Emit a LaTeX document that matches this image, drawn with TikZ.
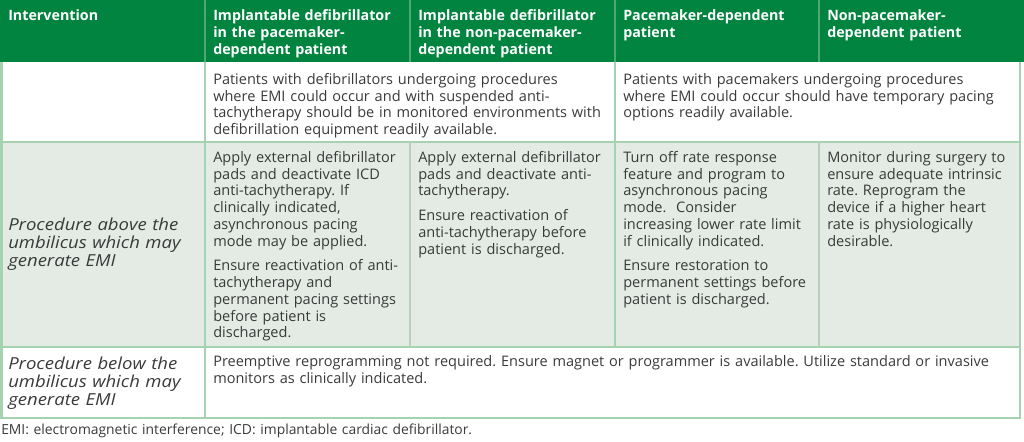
\documentclass[tikz,border=0pt]{standalone}
\usepackage{fontspec}
\setmainfont[ItalicFeatures={FakeStretch=1.12}]{Open Sans}
\frenchspacing
\definecolor{headgreen}{HTML}{00843F}
\definecolor{headrule}{HTML}{4FA772}
\definecolor{bodyrule}{HTML}{A6D3AF}
\definecolor{innerrule}{HTML}{B7CFBB}
\definecolor{rowshade}{HTML}{E3EBE4}
\definecolor{ink}{HTML}{3A3A3A}
\begin{document}
\begin{tikzpicture}[x=0.75pt,y=-0.75pt,
  head/.style={anchor=base west,inner sep=0pt,text width=170pt,align=left,text=white,
    font=\bfseries\fontsize{10.7}{12.75}\selectfont},
  cell/.style={anchor=base west,inner sep=0pt,text width=170pt,align=left,text=ink,
    font=\fontsize{10.9}{12.55}\selectfont},
  rowhead/.style={anchor=base west,inner sep=0pt,text width=170pt,align=left,text=ink,
    font=\itshape\fontsize{12.4}{13.5}\selectfont},
  rule/.style={bodyrule,line width=1.5pt},
  thinrule/.style={innerrule,line width=0.8pt}]
\useasboundingbox (0,0) rectangle (1024,442);

% backgrounds
\fill[headgreen] (0,0) rectangle (1024,62);
\fill[rowshade] (2,142) rectangle (1020,347);

% rules
\foreach \x in {205,410,615,819}
  \draw[headrule,line width=0.8pt] (\x,0) -- (\x,62);
\draw[rule] (1.5,62) -- (1.5,418) -- (1020,418) -- (1020,62);
\draw[rule] (1.5,142) -- (1020,142);
\draw[rule] (1.5,347) -- (1020,347);
\draw[rule] (205,62) -- (205,418);
\draw[rule] (615,62) -- (615,347);
\draw[thinrule] (410,142) -- (410,347);
\draw[thinrule] (819,142) -- (819,347);

% header
\node[head] (hint) at (8,20.5) {Intervention};
\node[head] (hicdpd) at (213,20.5) {Implantable defibrillator\\in the pacemaker-\\dependent patient};
\node[head] (hicdnpd) at (418,20.5) {Implantable defibrillator\\in the non-pacemaker-\\dependent patient};
\node[head] (hpmpd) at (623,20.5) {Pacemaker-dependent\\patient};
\node[head] (hpmnpd) at (827,20.5) {Non-pacemaker-\\dependent patient};

% general row
\node[cell,text width=320pt] (geficd) at (213,84.5) {Patients with defibrillators undergoing procedures\\where EMI could occur and with suspended anti-\\tachytherapy should be in monitored environments with\\defibrillation equipment readily available.};
\node[cell,text width=320pt] (genpm) at (623,84.5) {Patients with pacemakers undergoing procedures\\where EMI could occur should have temporary pacing\\options readily available.};

% above the umbilicus
\node[rowhead] (above) at (8,230) {Procedure above the\\umbilicus which may\\generate EMI};
\node[cell] (aicdpd) at (213,162.5) {Apply external defibrillator\\pads and deactivate ICD\\anti-tachytherapy. If\\clinically indicated,\\asynchronous pacing\\mode may be applied.\\[6pt]Ensure reactivation of anti-\\tachytherapy and\\permanent pacing settings\\before patient is\\discharged.};
\node[cell] (aicdnpd) at (418,162.5) {Apply external defibrillator\\pads and deactivate anti-\\tachytherapy.\\[6pt]Ensure reactivation of\\anti-tachytherapy before\\patient is discharged.};
\node[cell] (apmpd) at (623,162.5) {Turn off rate response\\feature and program to\\asynchronous pacing\\mode.\ \ Consider\\increasing lower rate limit\\if clinically indicated.\\[6pt]Ensure restoration to\\permanent settings before\\patient is discharged.};
\node[cell] (apmnpd) at (827,162.5) {Monitor during surgery to\\ensure adequate intrinsic\\rate. Reprogram the\\device if a higher heart\\rate is physiologically\\desirable.};

% below the umbilicus
\node[rowhead] (below) at (8,369) {Procedure below the\\umbilicus which may\\generate EMI};
\node[cell,text width=600pt] (ball) at (213,366.5) {Preemptive reprogramming not required. Ensure magnet or programmer is available. Utilize standard or invasive\\monitors as clinically indicated.};

% footnote
\node[cell,font=\fontsize{10.4}{12}\selectfont,text width=600pt] (note) at (1,434) {EMI: electromagnetic interference; ICD: implantable cardiac defibrillator.};
\end{tikzpicture}
\end{document}
